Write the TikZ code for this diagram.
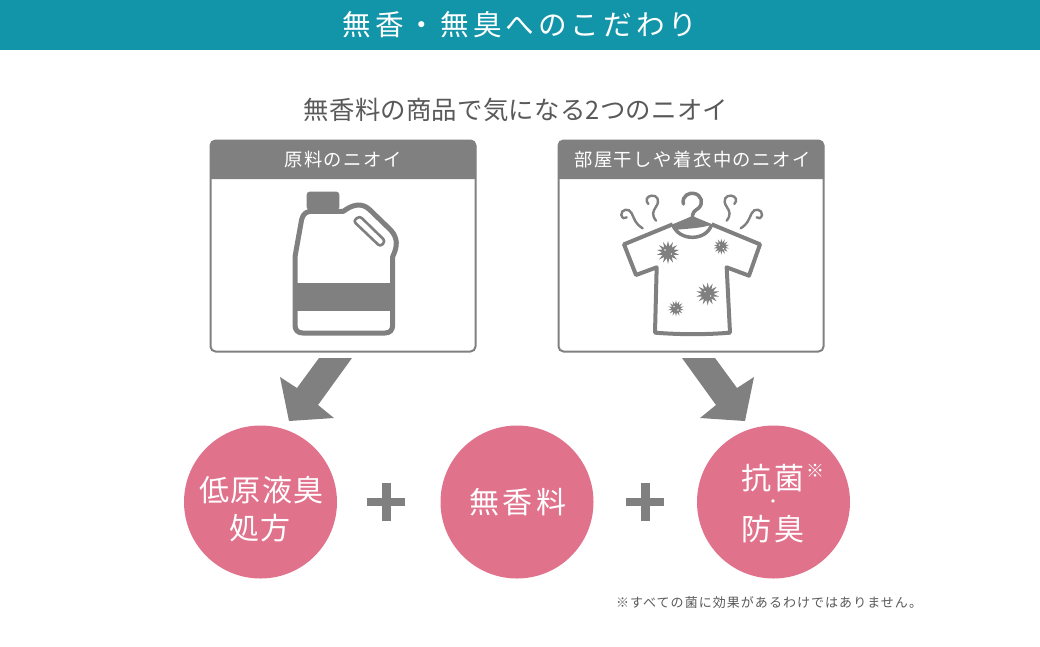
\documentclass[tikz,border=0pt]{standalone}
\usepackage{fontspec}
\usepackage{tikz}
\usepackage{xcolor}
\usetikzlibrary{shapes, positioning}
\newfontfamily\jpfont{Noto Sans CJK JP}
\definecolor{barteal}{HTML}{1395A9}
\definecolor{iconrey}{HTML}{808080}
\definecolor{textgrey}{HTML}{595959}
\definecolor{circlepink}{HTML}{E0728C}
\newcommand{\jpsize}[2]{\jpfont\fontsize{#1}{#1}\selectfont\addfontfeature{LetterSpace=#2}}
\tikzset{
    framebox/.style={draw=iconrey, line width=2pt, rounded corners=5pt, fill=white, minimum width=265pt, minimum height=211pt, inner sep=0pt},
    headtext/.style={text=white, inner sep=0pt, font=\jpsize{18.3}{8.5}},
    pinkcircle/.style={circle, fill=circlepink, minimum size=153pt, inner sep=0pt},
    circletext/.style={text=white, inner sep=0pt, align=center},
    plussign/.style={fill=iconrey, inner sep=0pt},
    germ/.style={star, star points=14, star point ratio=1.9, fill=iconrey, inner sep=0pt},
    germdot/.style={fill=white, circle, minimum size=1.6pt, inner sep=0pt},
    iconline/.style={draw=iconrey, line width=5pt, line join=round},
    smell/.style={draw=iconrey, line width=2.4pt, line cap=round}
}
\begin{document}
\begin{tikzpicture}[x=1pt, y=-1pt]
    \useasboundingbox (0,0) rectangle (1040,646);
    \fill[barteal] (0,0) rectangle (1040,50);
    \node[text=white, inner sep=0pt, font=\jpsize{28.6}{14}] (title) at (520,25) {無香・無臭へのこだわり};
    \node[text=textgrey, inner sep=0pt, font=\jpsize{25.4}{1}] (subtitle) at (516,110) {無香料の商品で気になる2つのニオイ};

    % left box
    \node[framebox] (rawbox) at (343,246) {};
    \fill[iconrey] (210,179) [rounded corners=5pt] -- (210,140) -- (476,140) [sharp corners] -- (476,179) -- cycle;
    \node[headtext] (rawhead) at (343,160) {原料のニオイ};

    % right box
    \node[framebox] (dampbox) at (691,246) {};
    \fill[iconrey] (558,179) [rounded corners=5pt] -- (558,140) -- (824,140) [sharp corners] -- (824,179) -- cycle;
    \node[headtext] (damphead) at (692.5,160) {部屋干しや着衣中のニオイ};

    % bottle, in zoomed units
    \begin{scope}[shift={(200,130)}, scale=1/3]
        \fill[iconrey, rounded corners=3pt] (320,240) -- (320,185) -- (418,185) -- (418,240) -- cycle;
        \draw[iconline] (285,585) -- (285,380) -- (305,268) .. controls (310,250) and (320,244) .. (335,244)
            -- (430,244) .. controls (455,225) and (485,215) .. (510,240) -- (572,300) .. controls (595,325) and (592,350) .. (578,380)
            -- (578,585) .. controls (578,600) and (570,609) .. (555,609) -- (308,609) .. controls (293,609) and (285,600) .. (285,585) -- cycle;
        \fill[iconrey] (285,458) rectangle (578,543);
        \draw[iconline, line width=2.6pt, rounded corners=3pt] (460,273) -- (479,258) -- (556,333) -- (541,350) -- cycle;
    \end{scope}

    % shirt, in zoomed units
    \begin{scope}[shift={(550,130)}, scale=1/3]
        \draw[iconline, line width=4pt] (368,283) -- (222,343) -- (258,435) -- (320,412) -- (315,608) .. controls (390,614) and (470,614) .. (540,608)
            -- (530,412) -- (597,437) -- (630,343) -- (485,283);
        \draw[iconline, line width=3.5pt] (368,283) .. controls (385,335) and (470,335) .. (485,283);
        \fill[iconrey] (368,283) -- (427,258) -- (487,283) .. controls (455,296) and (400,296) .. (375,300) -- cycle;
        \draw[iconline, line width=3.5pt, line cap=round] (400,222) .. controls (395,195) and (420,188) .. (430,190) .. controls (455,193) and (462,220) .. (445,235) .. controls (432,243) and (427,248) .. (427,265);
        \draw[smell] (278,295) .. controls (255,280) and (255,270) .. (245,250) .. controls (238,232) and (212,238) .. (214,255) .. controls (216,265) and (225,268) .. (230,262);
        \draw[smell] (318,272) .. controls (305,255) and (308,245) .. (318,230) .. controls (332,210) and (320,195) .. (305,197) .. controls (290,198) and (285,212) .. (295,222);
        \draw[smell] (530,272) .. controls (543,255) and (540,245) .. (530,230) .. controls (516,210) and (528,195) .. (543,197) .. controls (558,198) and (563,212) .. (553,222);
        \draw[smell] (572,295) .. controls (595,280) and (595,270) .. (605,250) .. controls (612,232) and (638,238) .. (636,255) .. controls (634,265) and (625,268) .. (620,262);
        \node[germ, minimum size=23pt] (germa) at (354,367) {};
        \node[germ, minimum size=16pt] (germb) at (514,350) {};
        \node[germ, minimum size=23pt] (germc) at (473,492) {};
        \node[germ, minimum size=16pt] (germd) at (378,535) {};
        \foreach \gx/\gy [count=\gi] in {345/360, 364/372, 508/345, 520/356, 465/485, 482/498, 372/530, 384/540}
            \node[germdot] (dot\gi) at (\gx,\gy) {};
    \end{scope}

    % big arrows
    \fill[iconrey] (352,358) -- (319,358) -- (297,388) -- (280,377) -- (289,421) -- (334,418) -- (318,405) -- cycle;
    \fill[iconrey] (682,358) -- (715,358) -- (737,388) -- (754,377) -- (745,421) -- (700,418) -- (716,405) -- cycle;

    % circles
    \node[pinkcircle] (lowcircle) at (260.5,502) {};
    \node[pinkcircle] (freecircle) at (517,502) {};
    \node[pinkcircle] (anticircle) at (773.5,502) {};
    \node[circletext, font=\jpsize{30}{5}] (lowtexta) at (261.5,490) {低原液臭};
    \node[circletext, font=\jpsize{30}{5}] (lowtextb) at (260,528) {処方};
    \node[circletext, font=\jpsize{30}{13}] (freetext) at (518,502) {無香料};
    \node[circletext, font=\jpsize{30}{8}] (antitexta) at (773,478) {抗菌};
    \node[circletext, font=\jpsize{18}{0}] (antimark) at (815,471) {※};
    \node[circletext, font=\jpsize{16}{0}] (antidot) at (773,504) {・};
    \node[circletext, font=\jpsize{30}{8}] (antitextb) at (773,529) {防臭};

    % plus signs
    \node[plussign, minimum width=38pt, minimum height=8pt] (plusah) at (386,502) {};
    \node[plussign, minimum width=9pt, minimum height=38pt] (plusav) at (386,502) {};
    \node[plussign, minimum width=38pt, minimum height=8pt] (plusbh) at (645,502) {};
    \node[plussign, minimum width=9pt, minimum height=38pt] (plusbv) at (645,502) {};

    \node[text=textgrey, inner sep=0pt, font=\jpsize{13}{8}] (footnote) at (769,603) {※すべての菌に効果があるわけではありません。};
\end{tikzpicture}
\end{document}
